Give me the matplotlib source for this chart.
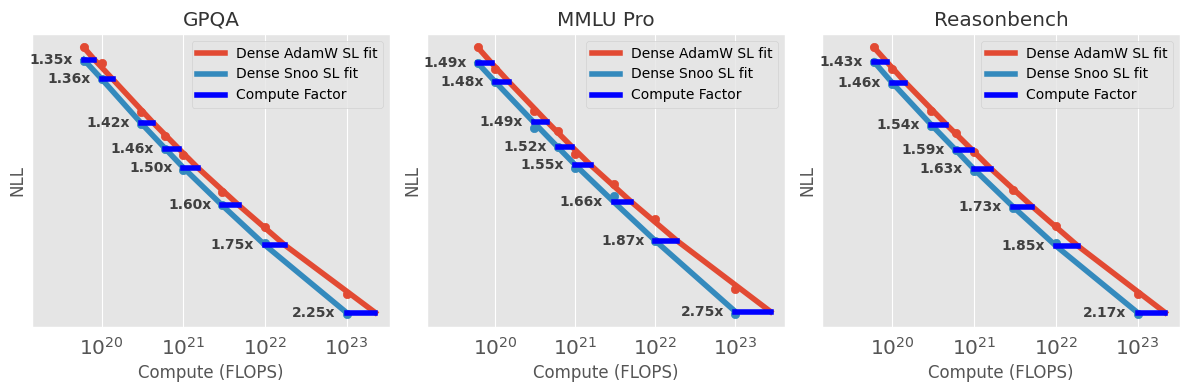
import numpy as np
import matplotlib.pyplot as plt

plt.style.use("ggplot")

# compute budgets shared by the three benchmarks (FLOPS)
COMPUTE = [6e19, 1e20, 3e20, 6e20, 1e21, 3e21, 1e22, 1e23]

TITLES = ["GPQA", "MMLU Pro", "Reasonbench"]

# NLL values (no y ticks in the source, so arbitrary units)
gpqa_adamw = [1.271, 1.238, 1.139, 1.090, 1.051, 0.976, 0.905, 0.767]
gpqa_snoo = [1.243, 1.206, 1.114, 1.063, 1.020, 0.948, 0.871, 0.727]
gpqa_snoo_fit = [1.246, 1.206, 1.117, 1.064, 1.025, 0.948, 0.867, 0.729]
gpqa_factor = [1.35, 1.36, 1.42, 1.46, 1.50, 1.60, 1.75, 2.25]

mmlu_adamw = [1.272, 1.228, 1.141, 1.101, 1.053, 0.992, 0.920, 0.777]
mmlu_snoo = [1.240, 1.201, 1.106, 1.068, 1.026, 0.968, 0.876, 0.727]
mmlu_snoo_fit = [1.240, 1.201, 1.119, 1.068, 1.031, 0.956, 0.876, 0.731]
mmlu_factor = [1.49, 1.48, 1.49, 1.52, 1.55, 1.66, 1.87, 2.75]

rb_adamw = [1.272, 1.228, 1.141, 1.097, 1.057, 0.981, 0.906, 0.767]
rb_snoo = [1.241, 1.197, 1.112, 1.062, 1.018, 0.943, 0.871, 0.727]
rb_snoo_fit = [1.243, 1.200, 1.114, 1.062, 1.023, 0.946, 0.866, 0.729]
rb_factor = [1.43, 1.46, 1.54, 1.59, 1.63, 1.73, 1.85, 2.17]

ADAMW = [gpqa_adamw, mmlu_adamw, rb_adamw]
SNOO = [gpqa_snoo, mmlu_snoo, rb_snoo]
SNOO_FIT = [gpqa_snoo_fit, mmlu_snoo_fit, rb_snoo_fit]
FACTORS = [gpqa_factor, mmlu_factor, rb_factor]

RED = "#E24A33"
BLUE = "#348ABD"


def draw_panel(ax, title, adamw, snoo, snoo_fit, factor):
    c = np.array(COMPUTE)
    f = np.array(factor)
    ends = c * f
    # AdamW fit passes through the points where it matches the Snoo fit
    ax.plot(np.r_[c[0], ends], np.r_[adamw[0], snoo_fit], color=RED, lw=4,
            label="Dense AdamW SL fit")
    ax.plot(c, snoo_fit, color=BLUE, lw=4, label="Dense Snoo SL fit")
    ax.scatter(c, adamw, color=RED, s=36, zorder=3)
    ax.scatter(c, snoo, color=BLUE, s=36, zorder=3)
    for i in range(len(c)):
        ax.plot([c[i], ends[i]], [snoo_fit[i], snoo_fit[i]], color="blue", lw=4,
                zorder=4, label="Compute Factor" if i == 0 else None)
        ax.annotate(f"{f[i]:.2f}x", (c[i], snoo_fit[i]), xytext=(-8, 0),
                    textcoords="offset points", ha="right", va="center",
                    fontsize=10, fontweight="bold", color="#404040")
    ax.set_xscale("log")
    ax.set_xlim(1.4e19, ends[-1] * 10 ** 0.18)
    ax.set_yticks([])
    ax.tick_params(axis="x", labelsize=14.5, length=0, pad=7)
    ax.minorticks_off()
    ax.set_title(title, color="#333333")
    ax.set_xlabel("Compute (FLOPS)")
    ax.set_ylabel("NLL")
    ax.legend(loc="upper right", fontsize=10)


fig, axes = plt.subplots(1, 3, figsize=(11.9, 3.9), dpi=100)
for k in range(3):
    draw_panel(axes[k], TITLES[k], ADAMW[k], SNOO[k], SNOO_FIT[k], FACTORS[k])

fig.subplots_adjust(left=0.027, right=0.9916, top=0.9128, bottom=0.1615,
                    wspace=0.1034)
fig.savefig("out.png", dpi=100)
